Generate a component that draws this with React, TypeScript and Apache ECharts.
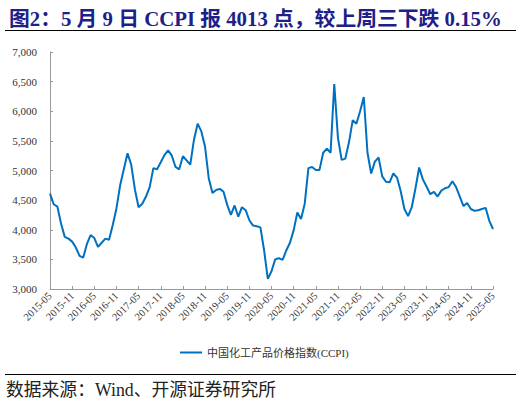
import React, { useEffect, useRef } from 'react';
import * as echarts from 'echarts';

// CCPI 月度读数，2015-05 起，末值为 2025-05-09 的 4013
const startYear = 2015;
const startMonth = 5;
const seriesName = '中国化工产品价格指数(CCPI)';
const ccpi = [
  4610, 4430, 4390, 4100, 3880, 3850, 3800, 3700, 3560, 3530, 3760, 3910,
  3860, 3710, 3780, 3850, 3830, 4080, 4360, 4750, 5020, 5290, 5100, 4680,
  4380, 4440, 4560, 4720, 5040, 5020, 5140, 5260, 5340, 5250, 5060, 5020,
  5240, 5170, 5100, 5520, 5790, 5660, 5400, 4870, 4620, 4670, 4690, 4640,
  4420, 4250, 4410, 4220, 4380, 4330, 4160, 4070, 4060, 4040, 3650, 3170,
  3300, 3500, 3520, 3490, 3650, 3780, 3990, 4290, 4180, 4440, 5040, 5060,
  5010, 5010, 5300, 5370, 5300, 6460, 5550, 5180, 5200, 5480, 5850, 5790,
  6000, 6240, 5300, 4950, 5150, 5220, 4900, 4810, 4800, 4950, 4880, 4650,
  4350, 4230, 4380, 4700, 5050, 4850, 4730, 4600, 4640, 4560, 4660, 4700,
  4720, 4820, 4720, 4560, 4400, 4450, 4350, 4320, 4330, 4350, 4370, 4150,
  4013,
];

const months = ccpi.map((_, i) => {
  const t = startMonth - 1 + i;
  const y = startYear + Math.floor(t / 12);
  const m = (t % 12) + 1;
  return `${y}-${String(m).padStart(2, '0')}`;
});

const serif = '"Liberation Serif", "Noto Sans CJK SC", serif';

export default function App() {
  const chartRef = useRef<HTMLDivElement>(null);

  useEffect(() => {
    document.body.style.margin = '0';
    if (!chartRef.current) return;
    const chart = echarts.init(chartRef.current, undefined, { renderer: 'svg' });

    const option: echarts.EChartsOption = {
      animation: false,
      title: {
        text: '图2：5 月 9 日 CCPI 报 4013 点，较上周三下跌 0.15%',
        left: 4,
        top: 3,
        textStyle: {
          color: '#1d2088',
          fontSize: 20.8,
          fontWeight: 'bold',
          fontFamily: serif,
        },
      },
      graphic: [
        { type: 'line', shape: { x1: 5, y1: 30.5, x2: 516, y2: 30.5 }, style: { stroke: '#000', lineWidth: 1 } },
        { type: 'line', shape: { x1: 5, y1: 374.5, x2: 516, y2: 374.5 }, style: { stroke: '#000', lineWidth: 1 } },
        {
          type: 'text',
          left: 6,
          top: 381,
          style: { text: '数据来源：Wind、开源证券研究所', fill: '#222', font: `17.8px ${serif}` },
        },
      ],
      legend: {
        data: [seriesName],
        left: 175,
        top: 342,
        icon: 'rect',
        itemWidth: 22,
        itemHeight: 2,
        itemGap: 6,
        textStyle: { fontSize: 11, fontFamily: serif, color: '#333' },
      },
      grid: { left: 50, right: 28, top: 52, bottom: 115 },
      xAxis: {
        type: 'category',
        data: months,
        boundaryGap: false,
        axisLine: { lineStyle: { color: '#999' } },
        axisTick: { inside: true, interval: 5, length: 3, lineStyle: { color: '#999' } },
        axisLabel: {
          interval: 5,
          rotate: 45,
          fontSize: 10.5,
          fontFamily: serif,
          color: '#333',
          margin: 5,
        },
        splitLine: { show: false },
      },
      yAxis: {
        type: 'value',
        min: 3000,
        max: 7000,
        interval: 500,
        axisLine: { show: true, lineStyle: { color: '#999' } },
        axisTick: { show: true, inside: true, length: 3, lineStyle: { color: '#999' } },
        axisLabel: {
          fontSize: 11,
          fontFamily: serif,
          color: '#333',
          margin: 13,
          formatter: (v: number) => v.toLocaleString('en-US'),
        },
        splitLine: { show: false },
      },
      series: [
        {
          name: seriesName,
          type: 'line',
          data: ccpi,
          showSymbol: false,
          symbol: 'none',
          lineStyle: { color: '#0070c0', width: 2 },
          itemStyle: { color: '#0070c0' },
        },
      ],
    };

    chart.setOption(option);
    return () => chart.dispose();
  }, []);

  return <div ref={chartRef} style={{ width: 521, height: 404 }} />;
}
